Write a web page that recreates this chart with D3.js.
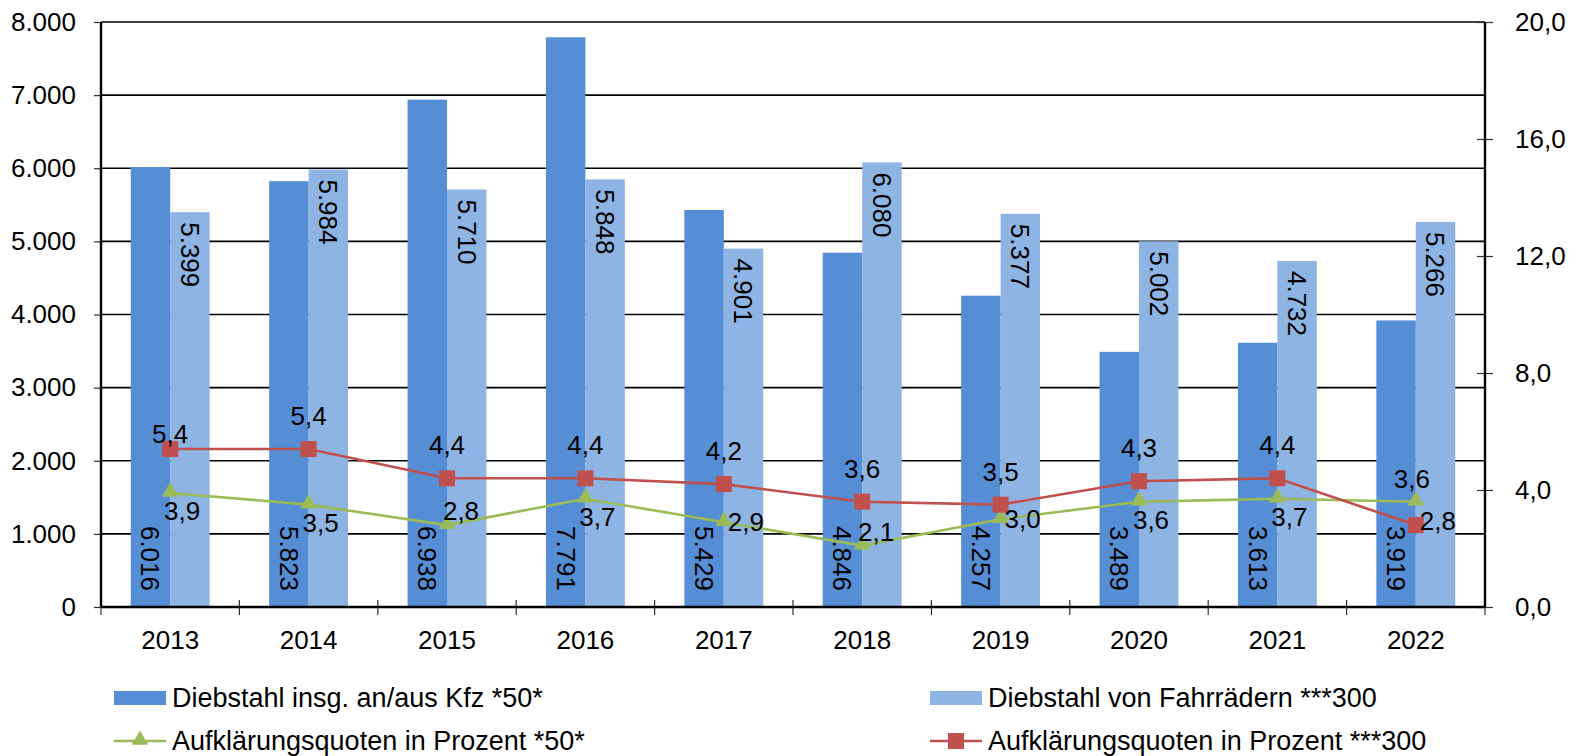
<!DOCTYPE html>
<html>
<head>
<meta charset="utf-8">
<script src="https://cdn.jsdelivr.net/npm/d3@7"></script>
<style>
  body { margin: 0; background: #fff; }
  text { font-family: "Liberation Sans", Arial, sans-serif; fill: #000; }
</style>
</head>
<body>
<script>
var width = 1574, height = 756;

// data
var years = ["2013","2014","2015","2016","2017","2018","2019","2020","2021","2022"];
var kfz = [6016, 5823, 6938, 7791, 5429, 4846, 4257, 3489, 3613, 3919];
var fahrrad = [5399, 5984, 5710, 5848, 4901, 6080, 5377, 5002, 4732, 5266];
var quoteKfz = [3.9, 3.5, 2.8, 3.7, 2.9, 2.1, 3.0, 3.6, 3.7, 3.6];
var quoteRad = [5.4, 5.4, 4.4, 4.4, 4.2, 3.6, 3.5, 4.3, 4.4, 2.8];
var leftTicks = [0, 1000, 2000, 3000, 4000, 5000, 6000, 7000, 8000];
var rightTicks = [0, 4, 8, 12, 16, 20];
// label placement of the line series, as Excel had them
var greenLabelPos = ["below","below","above","below","right","above","right","below","below","top"];
var redLabelPos = ["low","above","above","above","above","above","above","above","above","right"];

var colKfz = "#558ED5", colRad = "#8EB4E3", colGreen = "#9BBB59", colRed = "#C0504D";
var fs = "26px";

var plotLeft = 101, plotRight = 1485, plotTop = 22, plotBottom = 607;

var fmtInt = function(v) { return d3.format(",")(v).replace(/,/g, "."); };
var fmtDec = function(v) { return d3.format(".1f")(v).replace(".", ","); };

var x = d3.scaleBand().domain(years).range([plotLeft, plotRight]).paddingInner(0.43).paddingOuter(0.215);
var xOuter = d3.scaleBand().domain(years).range([plotLeft, plotRight]);
var xSub = d3.scaleBand().domain(["kfz","rad"]).range([0, x.bandwidth()]);
var yL = d3.scaleLinear().domain([0, 8000]).range([plotBottom, plotTop]);
var yR = d3.scaleLinear().domain([0, 20]).range([plotBottom, plotTop]);

var svg = d3.select("body").append("svg")
  .attr("width", width)
  .attr("height", height);

// gridlines
svg.append("g").selectAll("line")
  .data(leftTicks)
  .enter().append("line")
  .attr("x1", plotLeft).attr("x2", plotRight)
  .attr("y1", function(d) { return yL(d); })
  .attr("y2", function(d) { return yL(d); })
  .attr("stroke", "#000").attr("stroke-width", 1.6);

// bars
var groups = svg.append("g").selectAll("g")
  .data(years)
  .enter().append("g")
  .attr("transform", function(d) { return "translate(" + x(d) + ",0)"; });

groups.append("rect")
  .attr("x", xSub("kfz"))
  .attr("width", xSub.bandwidth())
  .attr("y", function(d, i) { return yL(kfz[i]); })
  .attr("height", function(d, i) { return plotBottom - yL(kfz[i]); })
  .attr("fill", colKfz);

groups.append("rect")
  .attr("x", xSub("rad"))
  .attr("width", xSub.bandwidth())
  .attr("y", function(d, i) { return yL(fahrrad[i]); })
  .attr("height", function(d, i) { return plotBottom - yL(fahrrad[i]); })
  .attr("fill", colRad);

// axes
var axisLeft = d3.axisLeft(yL).tickValues(leftTicks).tickSize(7).tickPadding(18).tickFormat(fmtInt);
var gL = svg.append("g").attr("transform", "translate(" + plotLeft + ",0)").call(axisLeft);

var axisRight = d3.axisRight(yR).tickValues(rightTicks).tickSize(8).tickPadding(22).tickFormat(fmtDec);
var gR = svg.append("g").attr("transform", "translate(" + plotRight + ",0)").call(axisRight);
gR.selectAll(".tick line").attr("x1", -8);

var axisBottom = d3.axisBottom(xOuter).tickSize(0).tickPadding(20);
var gB = svg.append("g").attr("transform", "translate(0," + plotBottom + ")").call(axisBottom);

[gL, gR, gB].forEach(function(g) {
  g.select(".domain").remove();
  g.selectAll("text").style("font-size", fs).attr("font-family", null);
  g.selectAll(".tick line").attr("stroke", "#333").attr("stroke-width", 1.2);
});
gB.selectAll("text").attr("dy", "0.85em");

// category tick marks
var bounds = years.map(function(d) { return xOuter(d); }).concat([plotRight]);
svg.append("g").selectAll("line")
  .data(bounds)
  .enter().append("line")
  .attr("x1", function(d) { return d; }).attr("x2", function(d) { return d; })
  .attr("y1", plotBottom - 7).attr("y2", plotBottom + 8)
  .attr("stroke", "#333").attr("stroke-width", 1.2);

// axis lines
svg.append("line").attr("x1", plotLeft).attr("x2", plotLeft).attr("y1", plotTop).attr("y2", plotBottom)
  .attr("stroke", "#000").attr("stroke-width", 2.4);
svg.append("line").attr("x1", plotRight).attr("x2", plotRight).attr("y1", plotTop).attr("y2", plotBottom)
  .attr("stroke", "#000").attr("stroke-width", 2.4);
svg.append("line").attr("x1", plotLeft).attr("x2", plotRight).attr("y1", plotBottom).attr("y2", plotBottom)
  .attr("stroke", "#000").attr("stroke-width", 2.6);

// bar labels (rotated)
groups.append("text")
  .attr("transform", function(d, i) {
    return "translate(" + (xSub("kfz") + xSub.bandwidth() / 2) + "," + (plotBottom - 16) + ") rotate(90)";
  })
  .attr("text-anchor", "end")
  .attr("dy", "0.35em")
  .style("font-size", fs)
  .text(function(d, i) { return fmtInt(kfz[i]); });

groups.append("text")
  .attr("transform", function(d, i) {
    return "translate(" + (xSub("rad") + xSub.bandwidth() / 2) + "," + (yL(fahrrad[i]) + 10) + ") rotate(90)";
  })
  .attr("text-anchor", "start")
  .attr("dy", "0.35em")
  .style("font-size", fs)
  .text(function(d, i) { return fmtInt(fahrrad[i]); });

// lines
var cx = function(d, i) { return x(years[i]) + x.bandwidth() / 2; };
var line = d3.line().x(cx).y(function(d) { return yR(d); });

svg.append("path").datum(quoteKfz)
  .attr("d", line).attr("fill", "none")
  .attr("stroke", colGreen).attr("stroke-width", 2.6);
svg.append("path").datum(quoteRad)
  .attr("d", line).attr("fill", "none")
  .attr("stroke", colRed).attr("stroke-width", 2.6);

var tri = d3.symbol().type(d3.symbolTriangle).size(120);
svg.append("g").selectAll("path")
  .data(quoteKfz)
  .enter().append("path")
  .attr("d", tri)
  .attr("transform", function(d, i) { return "translate(" + cx(d, i) + "," + (yR(d) - 1) + ")"; })
  .attr("fill", colGreen);

svg.append("g").selectAll("rect")
  .data(quoteRad)
  .enter().append("rect")
  .attr("x", function(d, i) { return cx(d, i) - 8; })
  .attr("y", function(d) { return yR(d) - 8; })
  .attr("width", 16).attr("height", 16)
  .attr("fill", colRed);

// line labels
var greenOff = {
  below: [12, 18], above: [14, -14], right: [22, 0], top: [-4, -23]
};
var redOff = { above: [0, -33], low: [0, -15], right: [22, -4] };

svg.append("g").selectAll("text")
  .data(quoteKfz)
  .enter().append("text")
  .attr("x", function(d, i) { return cx(d, i) + greenOff[greenLabelPos[i]][0]; })
  .attr("y", function(d, i) { return yR(d) + greenOff[greenLabelPos[i]][1]; })
  .attr("text-anchor", "middle").attr("dy", "0.35em")
  .style("font-size", fs)
  .text(function(d) { return fmtDec(d); });

svg.append("g").selectAll("text")
  .data(quoteRad)
  .enter().append("text")
  .attr("x", function(d, i) { return cx(d, i) + redOff[redLabelPos[i]][0]; })
  .attr("y", function(d, i) { return yR(d) + redOff[redLabelPos[i]][1]; })
  .attr("text-anchor", "middle").attr("dy", "0.35em")
  .style("font-size", fs)
  .text(function(d) { return fmtDec(d); });

// legend
var legendItems = [
  { name: "Diebstahl insg. an/aus Kfz *50*", type: "bar", color: colKfz, col: 0, row: 0 },
  { name: "Diebstahl von Fahrrädern ***300", type: "bar", color: colRad, col: 1, row: 0 },
  { name: "Aufklärungsquoten in Prozent *50*", type: "tri", color: colGreen, col: 0, row: 1 },
  { name: "Aufklärungsquoten in Prozent ***300", type: "sq", color: colRed, col: 1, row: 1 }
];
var legX = [114, 930], legY = [698, 741];

var leg = svg.append("g").selectAll("g")
  .data(legendItems)
  .enter().append("g")
  .attr("transform", function(d) { return "translate(" + legX[d.col] + "," + legY[d.row] + ")"; });

leg.each(function(d) {
  var g = d3.select(this);
  if (d.type === "bar") {
    g.append("rect").attr("x", 0).attr("y", -7).attr("width", 52).attr("height", 14).attr("fill", d.color);
  } else {
    g.append("line").attr("x1", 0).attr("x2", 52).attr("y1", 0).attr("y2", 0)
      .attr("stroke", d.color).attr("stroke-width", 2.6);
    if (d.type === "tri") {
      g.append("path").attr("d", tri).attr("transform", "translate(26,-1)").attr("fill", d.color);
    } else {
      g.append("rect").attr("x", 18).attr("y", -8).attr("width", 16).attr("height", 16).attr("fill", d.color);
    }
  }
  g.append("text").attr("x", 58).attr("dy", "0.35em").style("font-size", "27px").text(d.name);
});
</script>
</body>
</html>
